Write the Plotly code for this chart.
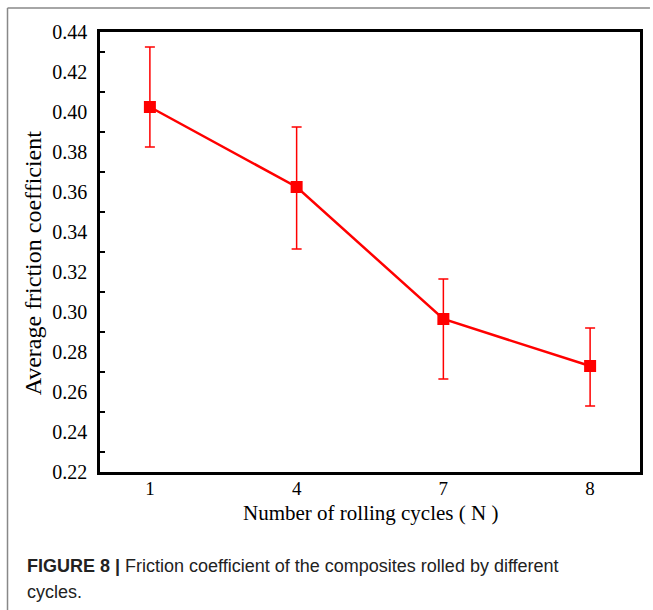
import plotly.graph_objects as go

cycles = ["1", "4", "7", "8"]
friction = [0.4025, 0.3625, 0.2965, 0.273]
err_plus = [0.030, 0.030, 0.020, 0.019]
err_minus = [0.020, 0.031, 0.030, 0.020]
y_ticks = [0.22, 0.24, 0.26, 0.28, 0.30, 0.32, 0.34, 0.36, 0.38, 0.40, 0.42, 0.44]
y_minor = [0.23, 0.25, 0.27, 0.29, 0.31, 0.33, 0.35, 0.37, 0.39, 0.41, 0.43]

SERIF = "Liberation Serif, Times New Roman, serif"
SANS = "Liberation Sans, Arial, sans-serif"

fig = go.Figure()
fig.add_trace(go.Scatter(
    x=cycles, y=friction, mode="lines+markers",
    line=dict(color="#ff0000", width=2.5),
    marker=dict(symbol="square", size=12, color="#ff0000"),
    error_y=dict(type="data", symmetric=False, array=err_plus, arrayminus=err_minus,
                 color="#ff0000", thickness=1.5, width=5),
    showlegend=False,
))

fig.update_xaxes(
    type="category", range=[-0.34, 3.34],
    showline=True, linecolor="black", linewidth=2.5, mirror=True,
    ticks="", showgrid=False, zeroline=False,
    tickfont=dict(family=SERIF, size=19, color="black"),
    ticklabelstandoff=-3,
)
fig.update_yaxes(
    range=[0.22, 0.44], tickvals=y_ticks, tickformat=".2f",
    showline=True, linecolor="black", linewidth=2.5, mirror=True,
    ticks="", showgrid=False, zeroline=False,
    tickfont=dict(family=SERIF, size=20, color="black"),
    ticklabelstandoff=6,
    minor=dict(tickmode="array", tickvals=y_minor, ticks="inside", ticklen=5,
               tickwidth=2, tickcolor="black", showgrid=False),
)

fig.add_annotation(text="Average friction coefficient", textangle=-90,
                   xref="paper", yref="paper", x=(33 - 100) / 543, y=(472 - 263) / 440,
                   xanchor="center", yanchor="middle", showarrow=False,
                   font=dict(family=SERIF, size=24, color="black"))
fig.add_annotation(text="Number of rolling cycles ( N )",
                   xref="paper", yref="paper", x=0.5, y=(472 - 513) / 440,
                   xanchor="center", yanchor="middle", showarrow=False,
                   font=dict(family=SERIF, size=21, color="black"))
fig.add_annotation(text="<b>FIGURE 8 |</b> Friction coefficient of the composites rolled by different",
                   xref="paper", yref="paper", x=(25 - 100) / 543, y=(472 - 566) / 440,
                   xanchor="left", yanchor="middle", showarrow=False,
                   font=dict(family=SANS, size=18, color="#222222"))
fig.add_annotation(text="cycles.",
                   xref="paper", yref="paper", x=(25 - 100) / 543, y=(472 - 592) / 440,
                   xanchor="left", yanchor="middle", showarrow=False,
                   font=dict(family=SANS, size=18, color="#222222"))

# outer figure frame (top and left edges)
fig.add_shape(type="line", xref="paper", yref="paper",
              x0=(7 - 100) / 543, x1=(653 - 100) / 543, y0=(472 - 8) / 440, y1=(472 - 8) / 440,
              line=dict(color="#888888", width=1.5))
fig.add_shape(type="line", xref="paper", yref="paper",
              x0=(7 - 100) / 543, x1=(7 - 100) / 543, y0=(472 - 8) / 440, y1=(472 - 612) / 440,
              line=dict(color="#888888", width=1.5))

fig.update_layout(
    width=653, height=610,
    margin=dict(l=100, r=10, t=32, b=138),
    paper_bgcolor="white", plot_bgcolor="white",
)

fig.write_html("out.html", config={"displayModeBar": False},
               post_script="document.body.style.margin='0';document.body.style.overflow='hidden';")
